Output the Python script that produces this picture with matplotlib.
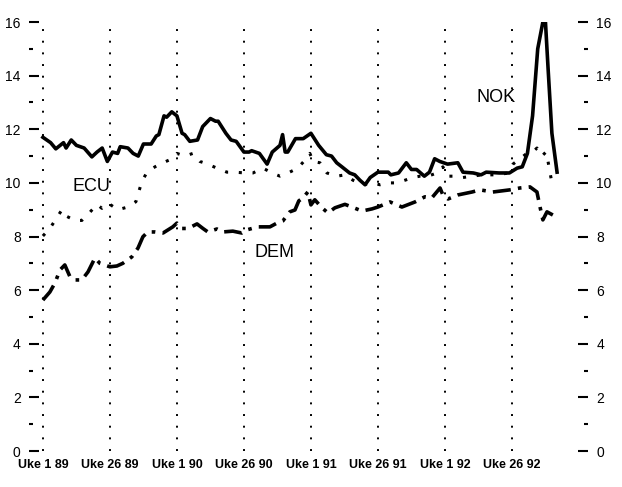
import matplotlib
matplotlib.use("Agg")
import matplotlib.pyplot as plt
from matplotlib.ticker import MultipleLocator

plt.rcParams['font.family'] = ['Liberation Sans Narrow', 'Liberation Sans', 'DejaVu Sans']

# weeks counted from Uke 1 89, one tick every 26 weeks
TICK_WEEKS = [0, 26, 52, 78, 104, 130, 156, 182]
TICK_LABELS = ["Uke 1 89", "Uke 26 89", "Uke 1 90", "Uke 26 90",
               "Uke 1 91", "Uke 26 91", "Uke 1 92", "Uke 26 92"]

nok_weeks = [0, 3, 5, 8, 9, 11, 13, 16, 19, 21, 23, 25, 27, 29, 30, 33, 35, 37,
             39, 42, 44, 45, 47, 48, 50, 52, 54, 55, 57, 60, 62, 65, 67, 68, 71,
             73, 75, 78, 80, 81, 84, 87, 89, 92, 93, 94, 95, 98, 101, 104, 107,
             110, 112, 114, 116, 119, 121, 123, 125, 127, 130, 134, 135, 138,
             141, 143, 145, 148, 150, 152, 154, 157, 161, 163, 167, 170, 172,
             177, 181, 184, 186, 188, 190, 192, 194, 195, 196, 197.5, 199.5]
nok = [11.7, 11.5, 11.27, 11.5, 11.3, 11.6, 11.4, 11.3, 10.97, 11.15, 11.3, 10.8,
       11.15, 11.1, 11.35, 11.3, 11.1, 11.0, 11.45, 11.45, 11.75, 11.8, 12.5,
       12.45, 12.65, 12.5, 11.85, 11.8, 11.55, 11.6, 12.1, 12.4, 12.3, 12.3,
       11.85, 11.6, 11.55, 11.15, 11.15, 11.2, 11.1, 10.7, 11.15, 11.4, 11.8,
       11.15, 11.15, 11.65, 11.65, 11.85, 11.4, 11.05, 11.0, 10.75, 10.6, 10.37,
       10.3, 10.1, 9.93, 10.2, 10.4, 10.4, 10.3, 10.37, 10.75, 10.5, 10.5, 10.25,
       10.4, 10.9, 10.8, 10.7, 10.75, 10.4, 10.37, 10.3, 10.4, 10.37, 10.37,
       10.55, 10.6, 11.1, 12.5, 15.0, 16.0, 16.0, 14.3, 11.85, 10.4]

ecu_weeks = [0, 2.7, 7.4, 9.3, 12.4, 15.1, 18.2, 21.0, 22.9, 25.2, 29.1, 33.0,
             36.1, 37.3, 38.4, 40.4, 43.5, 46.6, 50.1, 52.0, 55.1, 58.2, 60.9,
             64.0, 67.5, 71.4, 74.5, 78.4, 81.5, 85.4, 88.9, 92.0, 95.1, 98.9,
             101.7, 103.6, 104.8, 107.5, 110.2, 114.1, 117.2, 120.3, 124.2,
             127.7, 130.8, 133.9, 137.4, 140.5, 143.6, 146.3, 149.4, 152.9,
             155.2, 156.8, 159.9, 163.0, 166.5, 170.4, 173.5, 176.6, 180.5,
             182.4, 185.1, 187.8, 190.1, 191.7, 193.6, 195.2, 196.0, 197.5]
ecu = [8.02, 8.3, 9.0, 8.75, 8.6, 8.6, 8.9, 9.2, 9.05, 9.25, 9.0, 9.1, 9.3, 9.7,
       10.05, 10.4, 10.6, 10.75, 10.9, 11.1, 11.0, 11.1, 10.8, 10.7, 10.55, 10.4,
       10.4, 10.37, 10.37, 10.55, 10.37, 10.25, 10.37, 10.55, 10.85, 11.1, 10.8,
       10.75, 10.37, 10.25, 10.3, 10.1, 9.93, 10.0, 9.93, 10.0, 10.0, 10.1, 10.2,
       10.25, 10.25, 10.37, 10.6, 10.25, 10.25, 10.2, 10.25, 10.3, 10.3, 10.3,
       10.37, 10.7, 10.9, 11.1, 11.15, 11.3, 11.0, 11.15, 10.8, 10.0]

dem_weeks = [0, 2.7, 4.7, 6.6, 8.5, 10.5, 12.4, 15.1, 17.5, 20.2, 22.1, 26.0,
             28.7, 31.0, 34.5, 36.9, 38.8, 40.7, 43.5, 46.6, 50.4, 52.0, 53.9,
             56.3, 59.8, 62.1, 64.0, 67.5, 69.8, 73.7, 77.2, 79.2, 83.4, 88.1,
             90.8, 93.1, 95.8, 97.8, 99.3, 100.9, 102.8, 104.0, 105.5, 108.3,
             110.6, 113.3, 117.2, 119.9, 123.8, 127.7, 130.0, 134.7, 139.3,
             144.4, 148.2, 150.9, 154.1, 155.2, 157.2, 161.0, 166.5, 169.6,
             174.6, 181.2, 185.1, 189.0, 191.7, 192.9, 194.0, 195.6, 197.9, 199.5]
dem = [5.63, 5.93, 6.27, 6.75, 6.94, 6.5, 6.38, 6.38, 6.68, 7.2, 7.0, 6.87, 6.9,
       7.0, 7.24, 7.57, 7.99, 8.17, 8.17, 8.13, 8.36, 8.5, 8.3, 8.3, 8.47, 8.3,
       8.17, 8.28, 8.17, 8.2, 8.13, 8.25, 8.36, 8.36, 8.5, 8.58, 8.92, 8.99, 9.33,
       9.44, 9.66, 9.18, 9.37, 9.07, 8.88, 9.07, 9.2, 9.1, 8.95, 9.03, 9.1, 9.29,
       9.1, 9.29, 9.48, 9.44, 9.81, 9.55, 9.4, 9.55, 9.66, 9.74, 9.66, 9.74, 9.81,
       9.85, 9.66, 9.1, 8.62, 8.92, 8.8, 8.88]

fig = plt.figure(figsize=(6.22, 4.87), dpi=100)
ax = fig.add_axes([0.0466, 0.0739, 0.8987, 0.8809])

ax.plot(nok_weeks, nok, color='black', lw=2.6, solid_joinstyle='round')
ax.plot(ecu_weeks, ecu, color='black', lw=2.2, linestyle=(0, (1, 3.5)))
ax.plot(dem_weeks, dem, color='black', lw=2.6, linestyle=(0, (5, 2, 1, 2)))

ax.text(19, 9.85, "ECU", fontsize=13, ha='center', va='center')
ax.text(90, 7.39, "DEM", fontsize=13, ha='center', va='center')
ax.text(176, 13.2, "NOK", fontsize=13, ha='center', va='center')

ax.set_xlim(-5.4, 211.5)
ax.set_ylim(0, 16)

ax.set_xticks(TICK_WEEKS)
ax.set_xticklabels(TICK_LABELS, fontweight='bold', fontsize=9)
ax.xaxis.grid(True, color='black', linestyle=(0, (1, 5)), lw=1.4)

ax.yaxis.set_major_locator(MultipleLocator(2))
ax.yaxis.set_minor_locator(MultipleLocator(1))
ax.tick_params(axis='x', length=0, pad=6)
ax.tick_params(axis='y', which='both', direction='in', left=True, right=True,
               labelleft=True, labelright=True, labelsize=10, width=1.5, pad=6)
ax.tick_params(axis='y', which='major', length=7)
ax.tick_params(axis='y', which='minor', length=3)

for s in ax.spines.values():
    s.set_visible(False)

plt.savefig("out.png", dpi=100)
plt.close()
